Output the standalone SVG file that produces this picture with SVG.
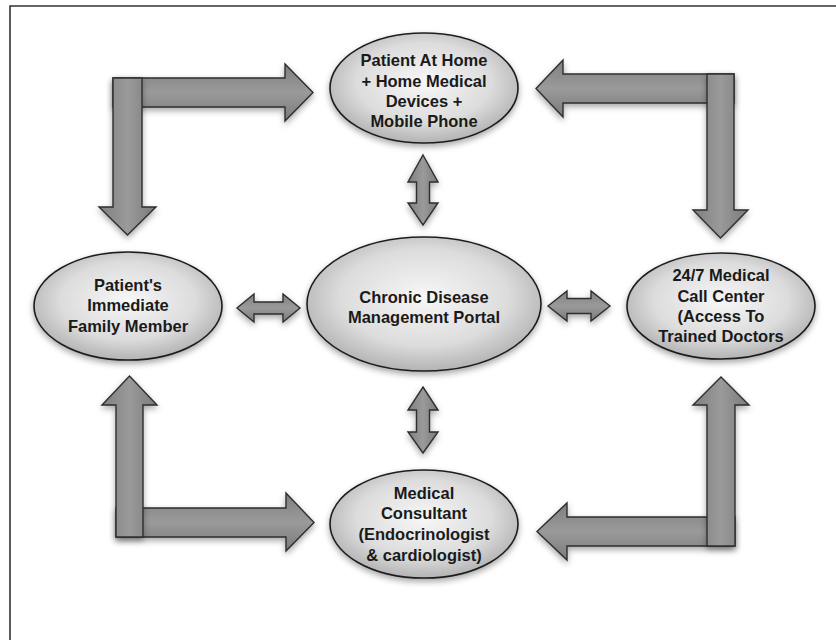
<svg xmlns="http://www.w3.org/2000/svg" width="836" height="640" viewBox="0 0 836 640">
<defs>
<radialGradient id="eg" cx="50%" cy="45%" r="60%">
<stop offset="0" stop-color="#f7f7f7"/>
<stop offset="0.6" stop-color="#dcdcdc"/>
<stop offset="1" stop-color="#a9a9a9"/>
</radialGradient>
<linearGradient id="ah" x1="0" y1="0" x2="0" y2="1">
<stop offset="0" stop-color="#7f7f7f"/>
<stop offset="0.5" stop-color="#9a9a9a"/>
<stop offset="1" stop-color="#7a7a7a"/>
</linearGradient>
<linearGradient id="av" x1="0" y1="0" x2="1" y2="0">
<stop offset="0" stop-color="#7f7f7f"/>
<stop offset="0.5" stop-color="#9a9a9a"/>
<stop offset="1" stop-color="#7a7a7a"/>
</linearGradient>
<filter id="sh" x="-20%" y="-20%" width="140%" height="150%">
<feDropShadow dx="0" dy="3" stdDeviation="3" flood-color="#000" flood-opacity="0.35"/>
</filter>
</defs>
<style>
.node ellipse{fill:url(#eg);stroke:#1e1e1e;stroke-width:1.6;filter:url(#sh)}
.node text{font-family:"Liberation Sans",Arial,sans-serif;font-weight:bold;font-size:16.5px;fill:#1a1a1a;text-anchor:middle}
.ah{fill:url(#ah);stroke:#2e2e2e;stroke-width:1.4;stroke-linejoin:miter;filter:url(#sh)}
.av{fill:url(#av);stroke:#2e2e2e;stroke-width:1.4;stroke-linejoin:miter;filter:url(#sh)}
.frame{fill:none;stroke:#333;stroke-width:1.6}
</style>
<rect width="836" height="640" fill="#fff"/>
<path class="frame" d="M10,640 V6 H836"/>
<g id="connectors">
<polygon class="ah" points="113,78 285,78 285,64 313,92.5 285,121 285,107 113,107"/>
<polygon class="av" points="113,78 142,78 142,207 156,207 127.5,235 99,207 113,207"/>
<polygon class="ah" points="734,74 734,103 563,103 563,117 536,88.5 563,60 563,74"/>
<polygon class="av" points="707,74 734,74 734,210 748,210 720.5,238 693,210 707,210"/>
<polygon class="ah" points="116,508 286,508 286,493 314,522.5 286,551 286,537 116,537"/>
<polygon class="av" points="116,537 143,537 143,405 157,405 129.5,376 102,405 116,405"/>
<polygon class="ah" points="735,517 735,546 567,546 567,560 537,531.5 567,503 567,517"/>
<polygon class="av" points="707,546 735,546 735,405 749,405 721,377 693,405 707,405"/>
<polygon class="ah" points="237,308 254,294 254,302 283,302 283,294 300,308 283,322 283,314 254,314 254,322"/>
<polygon class="ah" points="548,306 567,291 567,298.5 591,298.5 591,291 610,306 591,321 591,313.5 567,313.5 567,321"/>
<polygon class="av" points="423,155 438,182 429.5,182 429.5,203 438,203 423,225 408,203 416.5,203 416.5,182 408,182"/>
<polygon class="av" points="423,387 438,410 429.5,410 429.5,432 438,432 423,453 408,432 416.5,432 416.5,410 408,410"/>
</g>
<g id="patient-home" class="node">
<ellipse cx="424" cy="88" rx="94" ry="55"/>
<text x="424" y="66">Patient At Home</text>
<text x="424" y="87">+ Home Medical</text>
<text x="424" y="107">Devices +</text>
<text x="424" y="127">Mobile Phone</text>
</g>
<g id="portal" class="node">
<ellipse cx="424" cy="304" rx="117" ry="67"/>
<text x="424" y="303">Chronic Disease</text>
<text x="424" y="323">Management Portal</text>
</g>
<g id="family" class="node">
<ellipse cx="128" cy="306" rx="94" ry="54"/>
<text x="128" y="291">Patient's</text>
<text x="128" y="311">Immediate</text>
<text x="128" y="332">Family Member</text>
</g>
<g id="call-center" class="node">
<ellipse cx="721" cy="306" rx="94" ry="53"/>
<text x="721" y="281">24/7 Medical</text>
<text x="721" y="302">Call Center</text>
<text x="721" y="322">(Access To</text>
<text x="721" y="342">Trained Doctors</text>
</g>
<g id="consultant" class="node">
<ellipse cx="424" cy="524" rx="94" ry="54"/>
<text x="424" y="499">Medical</text>
<text x="424" y="519">Consultant</text>
<text x="424" y="540">(Endocrinologist</text>
<text x="424" y="561">&amp; cardiologist)</text>
</g>
</svg>
